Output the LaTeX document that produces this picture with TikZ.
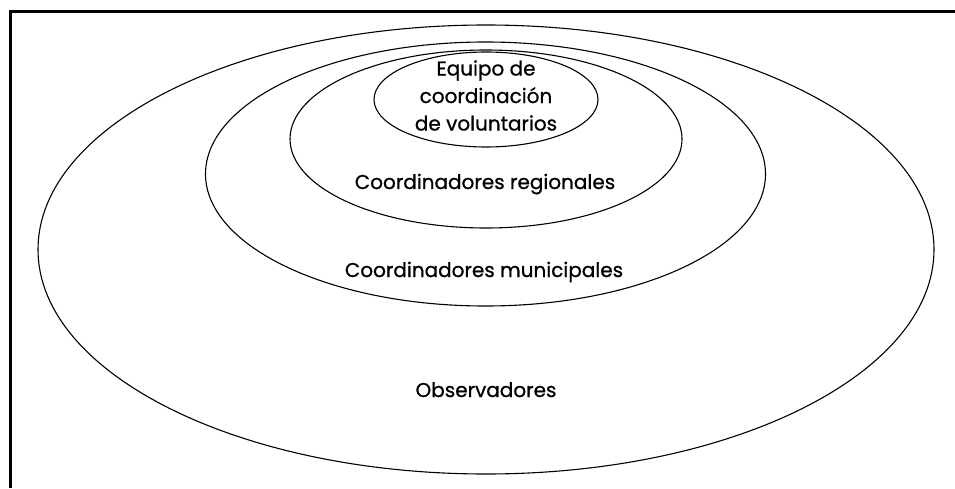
\documentclass[tikz,border=0pt]{standalone}
\usepackage{fontspec}
\setmainfont{Poppins}[FakeBold=0.8]
\usetikzlibrary{shapes.geometric}
\begin{document}
\begin{tikzpicture}[x=1pt,y=1pt,
  ring/.style={draw=black, line width=1.1pt, ellipse, inner sep=0pt, fill=none},
  lbl/.style={font=\fontsize{20}{28}\selectfont, inner sep=0pt, text=black},
  frameline/.style={draw=black, line width=3pt}]
\useasboundingbox (0,0) rectangle (955,488);
\draw[frameline] (10,0) -- (10,476.5) -- (955,476.5);
\node[ring, minimum width=896, minimum height=449] (obs) at (486,238.5) {};
\node[ring, minimum width=560, minimum height=264] (mun) at (485.5,314) {};
\node[ring, minimum width=392, minimum height=178] (reg) at (486,349) {};
\node[ring, minimum width=224, minimum height=95] (equ) at (486,388.5) {};
\node[lbl, align=center, font=\fontsize{20}{27.5}\selectfont] (tequ) at (486,392.5) {Equipo de\\coordinación\\de voluntarios};
\node[lbl, anchor=base] (treg) at (485,299) {Coordinadores regionales};
\node[lbl, anchor=base] (tmun) at (484,211) {Coordinadores municipales};
\node[lbl, anchor=base] (tobs) at (486,91) {Observadores};
\end{tikzpicture}
\end{document}
